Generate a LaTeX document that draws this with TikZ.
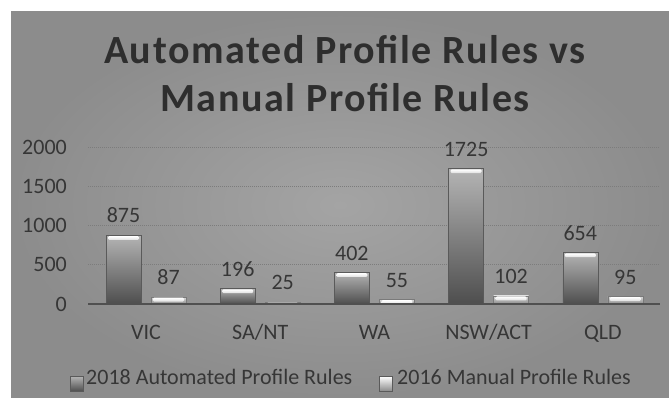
\documentclass[tikz,border=0pt]{standalone}
\usepackage{fontspec}
\setmainfont{Carlito}
\newfontfamily\titlefont[LetterSpace=4]{Carlito}
\usetikzlibrary{positioning}
\definecolor{bgin}{HTML}{A4A4A4}
\definecolor{bgout}{HTML}{8C8C8C}
\definecolor{textgray}{HTML}{363636}
\definecolor{titlegray}{HTML}{2E2E2E}
\definecolor{gridgray}{HTML}{7C7C7C}
\definecolor{axisgray}{HTML}{505050}
\definecolor{autotop}{HTML}{B4B4B4}
\definecolor{autobot}{HTML}{4E4E4E}
\definecolor{autoedge}{HTML}{5A5A5A}
\definecolor{mantop}{HTML}{D8D8D8}
\definecolor{manbot}{HTML}{8A8A8A}
\definecolor{manedge}{HTML}{7A7A7A}

\begin{document}
\begin{tikzpicture}[
        x=1pt, y=-1pt,
        titletext/.style={font=\titlefont\fontsize{40}{46}\selectfont\bfseries, text=titlegray, inner sep=0pt},
        labeltext/.style={font=\fontsize{22}{26}\selectfont, text=textgray, inner sep=0pt},
        gridline/.style={draw=gridgray, line width=0.6pt, dash pattern=on 1pt off 1pt},
        autobar/.style={top color=autotop, bottom color=autobot, draw=autoedge, line width=0.5pt},
        manbar/.style={top color=mantop, bottom color=manbot, draw=manedge, line width=0.5pt},
        barcap/.style={top color=white, bottom color=white!75!gray, rounded corners=1.2pt},
        keybox/.style={minimum width=13pt, minimum height=15pt, inner sep=0pt, draw=autoedge, line width=0.4pt}
    ]
        % Background
        \useasboundingbox (0,0) rectangle (669,398);
        \fill[white] (0,0) rectangle (669,398);
        \shade[inner color=bgin, outer color=bgout] (11,12) rectangle (669,398);

        % Title
        \node (title1) [titletext, anchor=base] at (345,64) {Automated Profile Rules vs};
        \node (title2) [titletext, anchor=base] at (345,112) {Manual Profile Rules};

        % Grid and axis labels
        \foreach \v in {500,1000,1500,2000} {
            \draw [gridline] (88,{304-\v*0.0785}) -- (660,{304-\v*0.0785});
        }
        \foreach \v in {0,500,1000,1500,2000} {
            \node (tick\v) [labeltext, anchor=east] at (67,{304-\v*0.0785}) {\v};
        }

        % Bars
        \foreach \cat/\a/\m [count=\i from 0] in {VIC/875/87, {SA/NT}/196/25, WA/402/55, {NSW/ACT}/1725/102, QLD/654/95} {
            \pgfmathsetmacro{\c}{146+114.2*\i}
            \pgfmathsetmacro{\ya}{304-\a*0.0785}
            \pgfmathsetmacro{\ym}{304-\m*0.0785}
            \pgfmathsetmacro{\hm}{min(4,\m*0.0785-0.5)}
            \shade [autobar] (\c-40,304) rectangle (\c-5,\ya);
            \shade [barcap] (\c-38,\ya+0.8) rectangle (\c-7,\ya+4.5);
            \shade [manbar] (\c+5,304) rectangle (\c+40,\ym);
            \shade [barcap] (\c+7,\ym+0.5) rectangle (\c+38,\ym+0.5+\hm);
            \node (auto\i) [labeltext, anchor=south] at (\c-22.5,\ya-12) {\a};
            \node (man\i) [labeltext, anchor=south] at (\c+22.5,\ym-12) {\m};
            \node (cat\i) [labeltext, anchor=base] at (\c,339) {\cat};
        }
        \draw [axisgray, line width=1.2pt] (88,304) -- (660,304);

        % Legend
        \node (key1) [keybox, top color=autotop, bottom color=autobot, anchor=north west] at (70,376) {};
        \node (leg1) [labeltext, anchor=base west] at (86,384) {2018 Automated Profile Rules};
        \node (key2) [keybox, top color=white, bottom color=manbot, anchor=north west] at (379,376) {};
        \node (leg2) [labeltext, anchor=base west] at (397,384) {2016 Manual Profile Rules};
    \end{tikzpicture}
\end{document}
